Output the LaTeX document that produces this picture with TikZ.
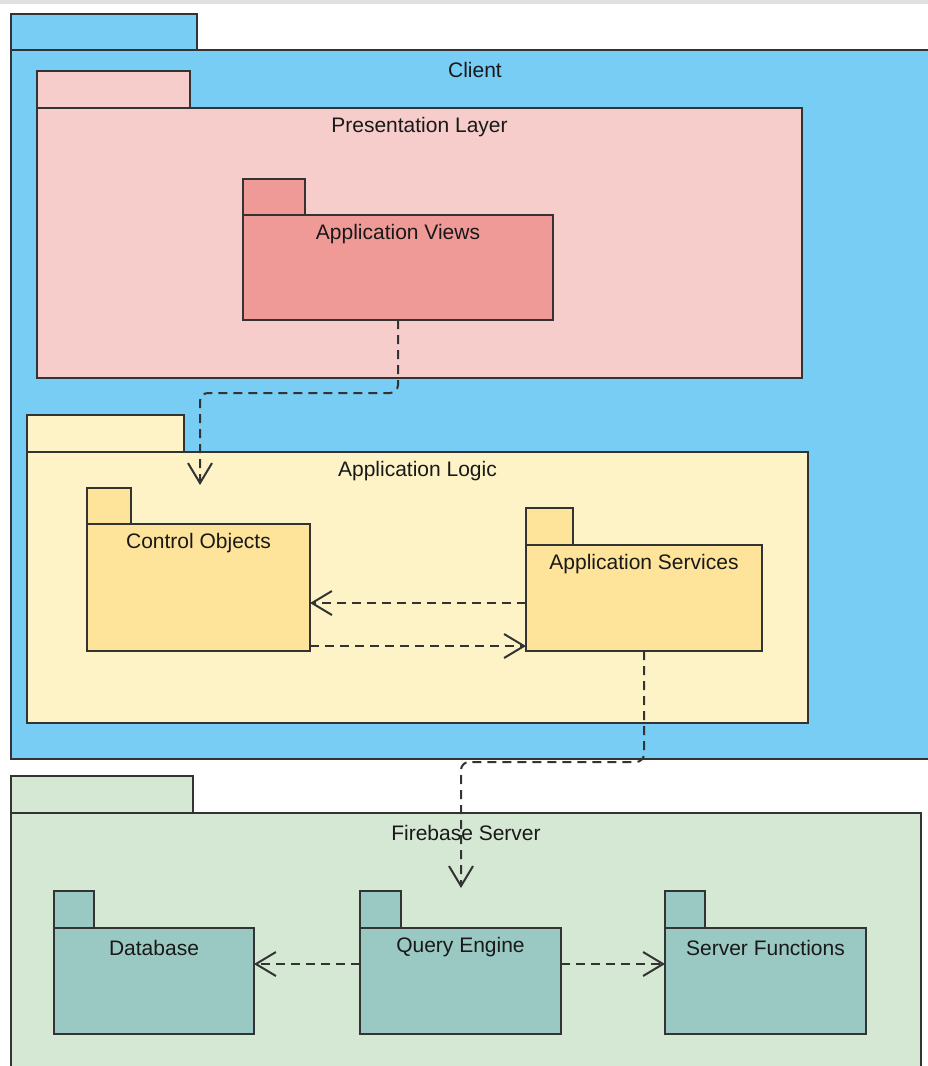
\documentclass[tikz,border=0pt]{standalone}
\usepackage{fontspec}
\setmainfont{Liberation Sans}
\usetikzlibrary{arrows.meta,calc}

\definecolor{clientblue}{HTML}{77CDF3}
\definecolor{prespink}{HTML}{F6CDCB}
\definecolor{viewred}{HTML}{F09A98}
\definecolor{logicyellow}{HTML}{FEF3C6}
\definecolor{ctrlyellow}{HTML}{FEE39A}
\definecolor{servergreen}{HTML}{D5E8D4}
\definecolor{serverteal}{HTML}{9AC8C2}
\definecolor{edgegray}{HTML}{333333}

\tikzset{
  pkgline/.style={draw=edgegray, line width=1.5pt},
  pkgbody/.style={pkgline, inner sep=0pt, outer sep=0pt, anchor=north west},
  pkglabel/.style={font=\fontsize{21}{24}\selectfont, text=black!90, inner sep=0pt},
  dep/.style={draw=edgegray, line width=2pt, dash pattern=on 9pt off 6pt,
    -{Straight Barb[length=20pt,width=24pt,line width=2pt]}},
}

% package: name, fill, x1, body top, x2, bottom, tab right, tab top, title
\newcommand{\umlpkg}[9]{%
  \draw[pkgline, fill=#2] (#3,#8) rectangle (#7,#4);
  \node[pkgbody, fill=#2, minimum width={#5-#3}, minimum height={#6-#4}] (#1) at (#3,#4) {};
  \node[pkglabel] (#1-title) at ([yshift=-19.5pt]#1.north) {#9};
}

\begin{document}
\begin{tikzpicture}[x=1pt,y=-1pt]
\useasboundingbox (0,0) rectangle (928,1066);
\clip (0,0) rectangle (928,1066);
\fill[white] (0,0) rectangle (928,1066);
\fill[black!12] (0,0) rectangle (928,4);

% client side
\umlpkg{client}{clientblue}{11}{50}{939}{759}{197}{14}{Client}
\umlpkg{pres}{prespink}{37}{108}{802}{378}{190}{71}{Presentation Layer}
\umlpkg{views}{viewred}{243}{215}{553}{320}{305}{179}{Application Views}
\umlpkg{logic}{logicyellow}{27}{452}{808}{723}{184}{415}{Application Logic}
\umlpkg{ctrl}{ctrlyellow}{87}{524}{310}{651}{131}{488}{Control Objects}
\umlpkg{appsvc}{ctrlyellow}{526}{545}{762}{651}{573}{508}{Application Services}

% server side
\umlpkg{server}{servergreen}{11}{813}{921}{1080}{193}{776}{Firebase Server}
\umlpkg{db}{serverteal}{54}{928}{254}{1034}{94}{891}{Database}
\umlpkg{query}{serverteal}{360}{928}{561}{1034}{401}{891}{Query Engine}
\umlpkg{funcs}{serverteal}{665}{928}{866}{1034}{705}{891}{Server Functions}

% dependencies
\coordinate (logicend) at (200,485);
\coordinate (serverend) at (461,888);
\draw[dep, rounded corners=8pt] (views.south) -- (views.south |- 0,393) -| (logicend);
\draw[dep, rounded corners=8pt] (appsvc.south) -- (appsvc.south |- 0,762) -| (serverend);
\draw[dep] (appsvc.west |- 0,603) -- (ctrl.east |- 0,603);
\draw[dep] (ctrl.east |- 0,646) -- (appsvc.west |- 0,646);
\draw[dep] (query.west |- 0,964) -- (db.east |- 0,964);
\draw[dep] (query.east |- 0,964) -- (funcs.west |- 0,964);
\end{tikzpicture}
\end{document}
